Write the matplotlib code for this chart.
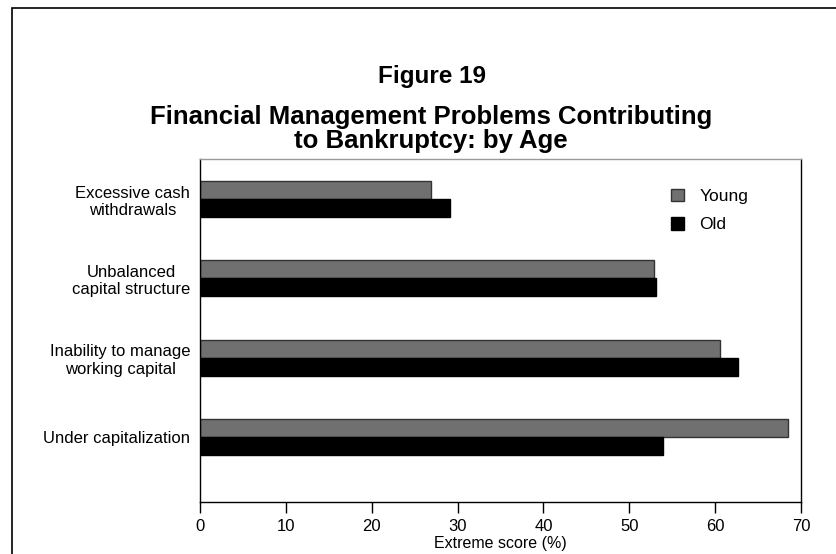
import matplotlib
matplotlib.use("Agg")
import matplotlib.pyplot as plt
import numpy as np
from matplotlib.patches import Rectangle

categories = ["Excessive cash\nwithdrawals", "Unbalanced\ncapital structure",
              "Inability to manage\nworking capital", "Under capitalization"]
young = [26.9, 52.9, 60.6, 68.5]
old = [29.1, 53.1, 62.7, 53.9]
xticks = [0, 10, 20, 30, 40, 50, 60, 70]

arial = ['Liberation Sans', 'DejaVu Sans']

fig = plt.figure(figsize=(8.36, 5.54), dpi=100)
W, H = 836, 554
ax = fig.add_axes([200 / W, 1 - 502 / H, 601 / W, 343 / H])

# outer frame
fig.patches.append(Rectangle((12 / W, -0.05), 1.2, 1 - 8 / H + 0.05, transform=fig.transFigure,
                             fill=False, edgecolor='black', linewidth=1.2))

pos = np.arange(len(categories))
h = 0.228
ax.barh(pos - h / 2, young, height=h, color='#707070', edgecolor='#333333', linewidth=1, label='Young')
ax.barh(pos + h / 2, old, height=h, color='black', edgecolor='black', linewidth=1, label='Old')

ax.set_xlim(0, 70)
ax.set_ylim(3.82, -0.506)
ax.set_xticks(xticks)
ax.set_xticklabels([str(t) for t in xticks], fontfamily=arial, fontsize=12)
ax.set_yticks(pos)
ax.set_yticklabels(categories, fontfamily=arial, fontsize=12, ma='center')
ax.tick_params(axis='y', length=0, pad=7)
ax.tick_params(axis='x', direction='out', length=8, width=1, pad=4)
ax.set_xlabel("Extreme score (%)", fontfamily=arial, fontsize=11.5, labelpad=2)

for s in ['left', 'right', 'bottom']:
    ax.spines[s].set_color('black')
    ax.spines[s].set_linewidth(1)
ax.spines['top'].set_color('#999999')
ax.spines['top'].set_linewidth(1)

leg = ax.legend(loc='upper left', bbox_to_anchor=((655 - 200) / 601, (159 - 173) / 343 + 1),
                frameon=False, prop={'family': arial, 'size': 12.5},
                handlelength=0.75, handleheight=0.75, handletextpad=0.9, labelspacing=0.75)

fig.text(432 / W, 1 - 76 / H, "Figure 19", ha='center', va='center',
         fontfamily=arial, fontweight='bold', fontsize=17.5)
fig.text(431 / W, 1 - 129 / H, "Financial Management Problems Contributing\nto Bankruptcy: by Age",
         ha='center', va='center', fontfamily=arial, fontweight='bold', fontsize=18.5,
         linespacing=1.0)

fig.savefig("out.png", dpi=100)
